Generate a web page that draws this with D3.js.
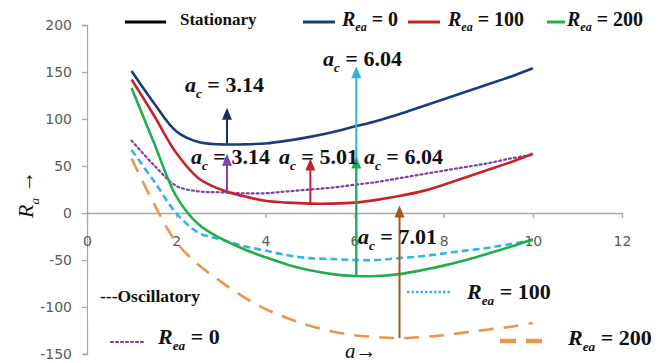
<!DOCTYPE html>
<html>
<head>
<meta charset="utf-8">
<script src="https://cdn.jsdelivr.net/npm/d3@7"></script>
<style>
  body { margin: 0; background: #fff; }
  svg { display: block; }
</style>
</head>
<body>
<svg id="chart" width="667" height="363"></svg>
<script>
// Wavenumber grid shared by all curves
const aValues = [1, 1.5, 2, 2.5, 3, 3.5, 4, 4.5, 5, 5.5, 6, 6.5, 7, 7.5, 8, 8.5, 9, 9.5, 10];

// Stationary convection curves
const stationaryR0   = [151, 117, 87, 75.5, 73, 73, 74, 77, 81, 86, 92, 98, 105, 113, 121, 129, 137, 145, 154];
const stationaryR100 = [142, 104, 64, 37, 25, 18, 13, 11, 10, 10, 11, 14, 18, 23, 30, 38, 46, 54, 63];
const stationaryR200 = [133, 75, 18, -12, -27, -38, -47, -55, -61, -65, -67, -67, -65, -61, -56, -50, -43, -36, -28];

// Oscillatory convection curves
const oscillatoryR0   = [77, 51, 29, 23, 22, 21, 21, 23, 25, 27, 30, 33, 37, 41, 45, 49, 53, 58, 62];
const oscillatoryR100 = [67, 34, 0, -21, -28, -35, -40, -45, -48, -49, -50, -50, -48, -46, -43, -40, -37, -33, -29];
const oscillatoryR200 = [58, 10, -31, -55, -73, -89, -102, -112, -120, -126, -130, -132, -133, -132, -130, -127, -124, -121, -117];

// Axis ticks
const xTicks = [0, 2, 4, 6, 8, 10, 12];
const yTicks = [-150, -100, -50, 0, 50, 100, 150, 200];

// Critical wavenumber markers
const criticalA   = [3.14, 3.14, 5.01, 6.04, 6.04, 7.01];
const arrowFromR  = [73, 21, 10, -67, -67, -133];
const arrowToR    = [112, 63, 58, 156, 60, 8];
const arrowColors = ["#1b2f6e", "#8240b4", "#c3202b", "#2cb2e4", "#20a85c", "#a3561f"];
const criticalLabels = ["3.14", "6.04", "3.14", "5.01", "6.04", "7.01"];

const svg = d3.select("#chart");
const x = d3.scaleLinear().domain([0, 12]).range([87, 622]);
const y = d3.scaleLinear().domain([-150, 200]).range([354, 25]);

const SERIF = "'Liberation Serif', 'Times New Roman', serif";
const axisColor = "#a9a9a9";
const tickFmt = d => String(d); // plain hyphen-minus

// ---- axes ----
const yAxis = d3.axisLeft(y).tickValues(yTicks).tickSize(5).tickPadding(10).tickFormat(tickFmt);
const gy = svg.append("g").attr("transform", `translate(${x(0)},0)`).call(yAxis);
gy.select(".domain").attr("stroke", axisColor).attr("stroke-width", 1.3);
gy.selectAll(".tick line").attr("stroke", axisColor).attr("stroke-width", 1.3);
gy.selectAll(".tick text").attr("fill", "#595959").attr("font-family", "'DejaVu Sans', sans-serif").attr("font-size", 14);

const xAxis = d3.axisBottom(x).tickValues(xTicks).tickSize(5).tickPadding(18).tickSizeOuter(0).tickFormat(tickFmt);
const gx = svg.append("g").attr("transform", `translate(0,${y(0)})`).call(xAxis);
gx.select(".domain").attr("stroke", axisColor).attr("stroke-width", 1.5);
gx.selectAll(".tick line").attr("stroke", axisColor).attr("stroke-width", 1.3);
gx.selectAll(".tick text").attr("fill", "#595959").attr("font-family", "'DejaVu Sans', sans-serif").attr("font-size", 14);

// ---- curves ----
const line = d3.line().x((d, i) => x(aValues[i])).y(d => y(d)).curve(d3.curveCatmullRom.alpha(0.5));

const series = [
  { values: oscillatoryR0,   color: "#7b3fa8", dash: "2 3",   width: 2.2, cap: "round" },
  { values: oscillatoryR100, color: "#33b4e6", dash: "7 4",   width: 2.6, cap: "butt" },
  { values: oscillatoryR200, color: "#e8964c", dash: "15 10", width: 2.6, cap: "butt" },
  { values: stationaryR0,    color: "#1f3a7a", dash: null,    width: 2.6, cap: "butt" },
  { values: stationaryR100,  color: "#c8232c", dash: null,    width: 2.6, cap: "butt" },
  { values: stationaryR200,  color: "#1fae4b", dash: null,    width: 2.6, cap: "butt" }
];

svg.append("g").selectAll("path").data(series).join("path")
  .attr("d", d => line(d.values))
  .attr("fill", "none")
  .attr("stroke", d => d.color)
  .attr("stroke-width", d => d.width)
  .attr("stroke-linecap", d => d.cap)
  .attr("stroke-dasharray", d => d.dash);

// ---- critical wavenumber arrows ----
const headLen = 12, headHalf = 5;
const arrows = svg.append("g");
criticalA.forEach((a, i) => {
  const cx = x(a), y0 = y(arrowFromR[i]), y1 = y(arrowToR[i]);
  arrows.append("line")
    .attr("x1", cx).attr("x2", cx)
    .attr("y1", y0).attr("y2", y1 + headLen - 1)
    .attr("stroke", arrowColors[i]).attr("stroke-width", 2);
  arrows.append("path")
    .attr("d", `M${cx},${y1} L${cx - headHalf},${y1 + headLen} L${cx + headHalf},${y1 + headLen} Z`)
    .attr("fill", arrowColors[i]);
});

// ---- rich text helper ----
function richText(g, px, py, parts, size, anchor) {
  const t = g.append("text")
    .attr("x", px).attr("y", py)
    .attr("font-family", SERIF)
    .attr("font-size", size)
    .attr("fill", "#111")
    .attr("text-anchor", anchor || "start");
  let shift = 0;
  parts.forEach(p => {
    const ts = t.append("tspan").text(p.t);
    ts.attr("font-weight", p.bold === false ? "normal" : "bold");
    if (p.italic) ts.attr("font-style", "italic");
    const target = p.sub ? size * 0.27 : 0;
    if (target !== shift) { ts.attr("dy", target - shift); shift = target; }
    ts.attr("font-size", p.sub ? size * 0.6 : size);
  });
  return t;
}

// critical value labels a_c = ...
const labelPos = [[185, 92], [323, 66], [191, 164], [279, 164], [364, 164], [358, 244]];
const labels = svg.append("g");
labelPos.forEach(([px, py], i) => {
  richText(labels, px, py, [
    { t: "a", italic: true },
    { t: "c", italic: true, sub: true },
    { t: " = " + criticalLabels[i] }
  ], 22);
});

// ---- top legend (stationary) ----
const legend = svg.append("g");
legend.append("line").attr("x1", 125).attr("x2", 166).attr("y1", 22).attr("y2", 22)
  .attr("stroke", "#000").attr("stroke-width", 3);
legend.append("text").attr("x", 180).attr("y", 25).attr("font-family", SERIF)
  .attr("font-weight", "bold").attr("font-size", 17).attr("fill", "#111").text("Stationary");

const topItems = [
  { x1: 303, x2: 335, tx: 342, color: "#1f3a7a", v: "0" },
  { x1: 408, x2: 440, tx: 448, color: "#c8232c", v: "100" },
  { x1: 547, x2: 565, tx: 567, color: "#1fae4b", v: "200" }
];
topItems.forEach(it => {
  legend.append("line").attr("x1", it.x1).attr("x2", it.x2).attr("y1", 22).attr("y2", 22)
    .attr("stroke", it.color).attr("stroke-width", 3);
  richText(legend, it.tx, 26, [
    { t: "R", italic: true },
    { t: "ea", italic: true, sub: true },
    { t: " = " + it.v }
  ], 20);
});

// ---- oscillatory legend ----
legend.append("rect").attr("x", 88).attr("y", 279).attr("width", 116).attr("height", 42).attr("fill", "#fff");
legend.append("text").attr("x", 100).attr("y", 302).attr("font-family", SERIF)
  .attr("font-weight", "bold").attr("font-size", 17.5).attr("fill", "#111").text("---Oscillatory");

legend.append("line").attr("x1", 111).attr("x2", 145).attr("y1", 342).attr("y2", 342)
  .attr("stroke", "#7b3fa8").attr("stroke-width", 2.2).attr("stroke-dasharray", "2 3").attr("stroke-linecap", "round");
richText(legend, 158, 344, [
  { t: "R", italic: true }, { t: "ea", italic: true, sub: true }, { t: " = 0" }
], 22);

legend.append("line").attr("x1", 407).attr("x2", 452).attr("y1", 292).attr("y2", 292)
  .attr("stroke", "#33b4e6").attr("stroke-width", 2.5).attr("stroke-dasharray", "2.5 2");
richText(legend, 467, 299, [
  { t: "R", italic: true }, { t: "ea", italic: true, sub: true }, { t: " = 100" }
], 22);

legend.append("line").attr("x1", 500).attr("x2", 550).attr("y1", 341).attr("y2", 341)
  .attr("stroke", "#e8964c").attr("stroke-width", 4.5).attr("stroke-dasharray", "16 10");
richText(legend, 568, 345, [
  { t: "R", italic: true }, { t: "ea", italic: true, sub: true }, { t: " = 200" }
], 22);

// ---- axis titles ----
richText(svg, 345, 358, [{ t: "a", italic: true, bold: false }, { t: "\u2192", bold: false }], 21);

const yt = svg.append("g").attr("transform", "translate(33,218) rotate(-90)");
richText(yt, 0, 0, [
  { t: "R", italic: true, bold: false }, { t: "a", italic: true, sub: true, bold: false }, { t: " \u2192", bold: false }
], 22);
</script>
</body>
</html>
